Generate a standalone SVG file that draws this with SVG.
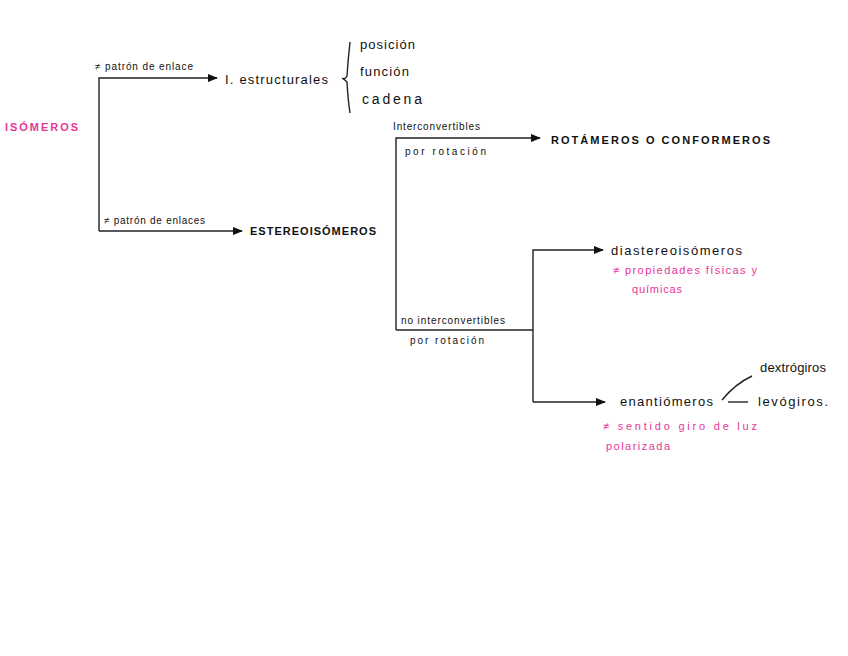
<svg xmlns="http://www.w3.org/2000/svg" width="848" height="656" viewBox="0 0 848 656">
<style>
.ln{stroke:#222;stroke-width:1.4;fill:none}
.t{font-family:"Liberation Sans",Arial,sans-serif;fill:#111}
.s{font-size:10px}
.m{font-size:13px}
.p{fill:#e8359a;font-size:11px}
.cap{font-size:11px;font-weight:bold}
</style>
<defs>
<marker id="ar" markerWidth="10" markerHeight="8" refX="9" refY="4" orient="auto" markerUnits="userSpaceOnUse">
<path d="M0,0 L10,4 L0,8 Z" fill="#111"/>
</marker>
</defs>
<g id="connectors">
<path class="ln" d="M99,231 V78 H217" marker-end="url(#ar)"/>
<path class="ln" d="M99,231 H242" marker-end="url(#ar)"/>
<path class="ln" d="M396,330 V138 H540" marker-end="url(#ar)"/>
<path class="ln" d="M396,330 H533"/>
<path class="ln" d="M533,402 V250 H603" marker-end="url(#ar)"/>
<path class="ln" d="M533,402 H605" marker-end="url(#ar)"/>
<path class="ln" d="M722,400 Q735,384 752,376"/>
<path class="ln" d="M728,402 H748"/>
<path class="ln" d="M350,42 Q348,60 347,76 Q345,80 342,78 Q345,80 347,82 Q348,100 350,113"/>
</g>
<g id="n-isomeros"><text class="t p cap" x="5" y="131" textLength="73" lengthAdjust="spacing">ISÓMEROS</text></g>
<g id="l1"><text class="t s" x="95" y="70" textLength="98" lengthAdjust="spacing">≠ patrón de enlace</text></g>
<g id="n-estructurales"><text class="t m" x="225" y="84" textLength="103" lengthAdjust="spacing">I. estructurales</text></g>
<g id="n-posicion"><text class="t m" x="360" y="49" textLength="55" lengthAdjust="spacing">posición</text></g>
<g id="n-funcion"><text class="t m" x="360" y="76" textLength="49" lengthAdjust="spacing">función</text></g>
<g id="n-cadena"><text class="t m" x="362" y="104" style="font-size:14px" textLength="60" lengthAdjust="spacing">cadena</text></g>
<g id="l2"><text class="t s" x="104" y="224" textLength="101" lengthAdjust="spacing">≠ patrón de enlaces</text></g>
<g id="n-estereo"><text class="t cap" x="250" y="235" textLength="126" lengthAdjust="spacing">ESTEREOISÓMEROS</text></g>
<g id="l3"><text class="t s" x="393" y="130" textLength="87" lengthAdjust="spacing">Interconvertibles</text><text class="t s" x="405" y="155" textLength="81" lengthAdjust="spacing">por   rotación</text></g>
<g id="n-rotameros"><text class="t cap" x="551" y="144" textLength="219" lengthAdjust="spacing">ROTÁMEROS   O   CONFORMEROS</text></g>
<g id="l4"><text class="t s" x="401" y="324" textLength="104" lengthAdjust="spacing">no interconvertibles</text><text class="t s" x="410" y="344" textLength="74" lengthAdjust="spacing">por   rotación</text></g>
<g id="n-diastereo"><text class="t m" x="611" y="255" textLength="131" lengthAdjust="spacing">diastereoisómeros</text><text class="t p" x="613" y="274" textLength="144" lengthAdjust="spacing">≠ propiedades físicas y</text><text class="t p" x="632" y="293" textLength="50" lengthAdjust="spacing">químicas</text></g>
<g id="n-enantio"><text class="t m" x="620" y="406" textLength="93" lengthAdjust="spacing">enantiómeros</text><text class="t p" x="603" y="430" textLength="154" lengthAdjust="spacing">≠ sentido  giro  de  luz</text><text class="t p" x="606" y="450" textLength="64" lengthAdjust="spacing">polarizada</text></g>
<g id="n-dextro"><text class="t m" x="760" y="372" textLength="66" lengthAdjust="spacing">dextrógiros</text></g>
<g id="n-levo"><text class="t m" x="758" y="406" textLength="70" lengthAdjust="spacing">levógiros.</text></g>
</svg>
